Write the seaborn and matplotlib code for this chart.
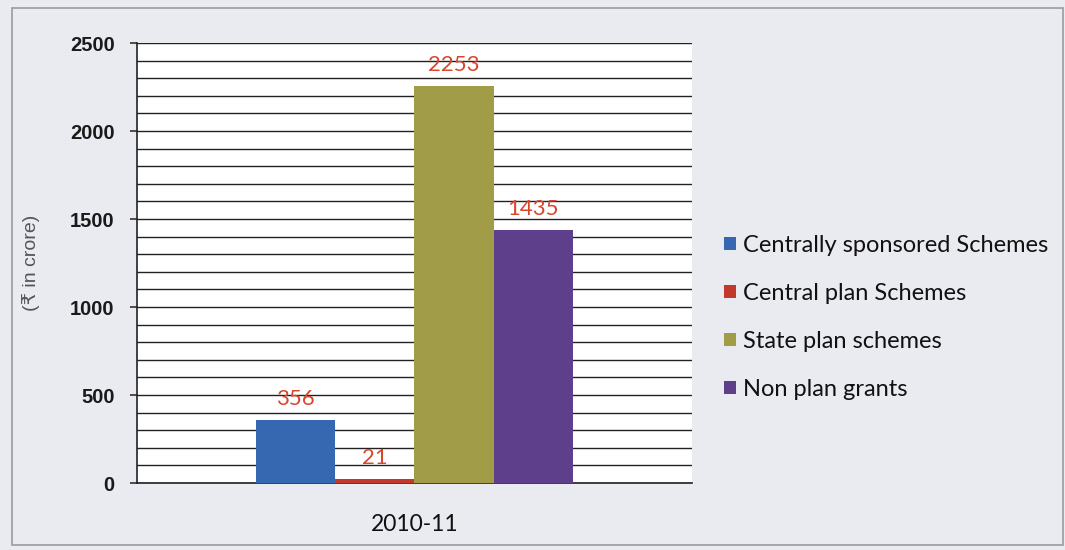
import pandas as pd
import matplotlib
matplotlib.use("Agg")
import matplotlib.pyplot as plt
import seaborn as sns
from matplotlib.patches import Rectangle
from matplotlib.ticker import MultipleLocator

# data
years = ["2010-11"]
schemes = ["Centrally sponsored Schemes", "Central plan Schemes",
           "State plan schemes", "Non plan grants"]
values = [356, 21, 2253, 1435]
colors = ["#3668b1", "#c0392b", "#a19c48", "#5e3f8c"]

df = pd.DataFrame({"year": years * len(schemes), "scheme": schemes, "value": values})

sns.set_theme(style="white")
plt.rcParams["font.family"] = ["Lato", "DejaVu Sans"]

fig = plt.figure(figsize=(10.65, 5.5), dpi=100)
fig.patch.set_facecolor("#eaeaf1")
fig.patches.append(Rectangle((0.011, 0.01), 0.987, 0.975, transform=fig.transFigure,
                             fill=False, edgecolor="#9a9aa3", linewidth=1.2))

ax = fig.add_axes([0.1286, 0.1218, 0.5212, 0.8])
ax.set_facecolor("white")

sns.barplot(data=df, x="year", y="value", hue="scheme", palette=colors,
            width=0.57, saturation=1, linewidth=0, legend=False, ax=ax, zorder=3)

for cont in ax.containers:
    ax.bar_label(cont, padding=8, color="#d9462a", fontsize=16)

ax.set_ylim(0, 2500)
ax.yaxis.set_major_locator(MultipleLocator(500))
ax.yaxis.set_minor_locator(MultipleLocator(100))
ax.grid(axis="y", which="both", color="#222222", linewidth=1.0, zorder=0)
ax.set_axisbelow(True)

for s in ["top", "right"]:
    ax.spines[s].set_visible(False)
ax.spines["left"].set_color("#222222")
ax.spines["bottom"].set_color("#222222")
ax.spines["left"].set_linewidth(1.2)
ax.spines["bottom"].set_linewidth(1.2)

ax.tick_params(axis="y", which="major", length=5, width=1.1, color="#222222",
               left=True, pad=11, labelsize=14.5)
ax.tick_params(axis="y", which="minor", length=0)
for lbl in ax.get_yticklabels():
    lbl.set_family(["Liberation Sans", "DejaVu Sans"])
    lbl.set_fontweight("bold")
    lbl.set_color("#1a1a1a")
ax.tick_params(axis="x", length=0, pad=22, labelsize=16.5, labelcolor="#111111")

ax.set_xlabel("")
ax.set_ylabel("(₹ in crore)", fontsize=14, color="#555555",
              family=["Liberation Sans", "DejaVu Sans"])
ax.yaxis.set_label_coords(-0.175, 0.5)

handles = [Rectangle((0, 0), 1, 1, facecolor=c, edgecolor="none") for c in colors]
fig.legend(handles, schemes, loc="upper left", bbox_to_anchor=(0.671, 0.59),
           frameon=False, handlelength=0.5, handleheight=0.5,
           handletextpad=0.3, labelspacing=1.14, borderaxespad=0,
           prop={"size": 17}, labelcolor="#111111")

fig.savefig("out.png", dpi=100, facecolor=fig.get_facecolor())
